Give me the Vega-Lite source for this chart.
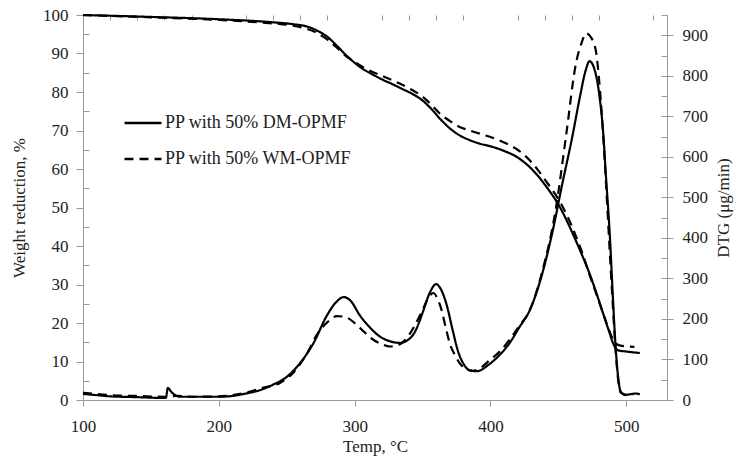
{
  "$schema": "https://vega.github.io/schema/vega-lite/v6.json",
  "width": 584,
  "height": 385,
  "autosize": {"type": "none"},
  "padding": {"left": 83, "top": 15, "right": 67, "bottom": 60},
  "background": "white",
  "config": {
    "view": {"stroke": null},
    "font": "Liberation Serif",
    "axis": {
      "grid": false,
      "domainColor": "#9a9a9a",
      "tickColor": "#9a9a9a",
      "labelColor": "#222222",
      "titleColor": "#222222",
      "labelFont": "Liberation Serif",
      "titleFont": "Liberation Serif",
      "labelFontSize": 17,
      "titleFontSize": 17,
      "titleFontWeight": "normal",
      "labelFlush": false
    },
    "legend": {
      "labelFont": "Liberation Serif",
      "labelFontSize": 18,
      "labelColor": "#222222",
      "labelLimit": 400
    }
  },
  "datasets": {
    "tga": [
      {"temp": 100, "weight": 100, "series": "PP with 50% DM-OPMF"},
      {"temp": 150, "weight": 99.5, "series": "PP with 50% DM-OPMF"},
      {"temp": 200, "weight": 98.9, "series": "PP with 50% DM-OPMF"},
      {"temp": 240, "weight": 98.1, "series": "PP with 50% DM-OPMF"},
      {"temp": 255, "weight": 97.6, "series": "PP with 50% DM-OPMF"},
      {"temp": 265, "weight": 97.0, "series": "PP with 50% DM-OPMF"},
      {"temp": 272, "weight": 96.0, "series": "PP with 50% DM-OPMF"},
      {"temp": 280, "weight": 94.3, "series": "PP with 50% DM-OPMF"},
      {"temp": 287, "weight": 92.0, "series": "PP with 50% DM-OPMF"},
      {"temp": 293, "weight": 89.8, "series": "PP with 50% DM-OPMF"},
      {"temp": 300, "weight": 87.6, "series": "PP with 50% DM-OPMF"},
      {"temp": 306, "weight": 86.0, "series": "PP with 50% DM-OPMF"},
      {"temp": 312, "weight": 84.8, "series": "PP with 50% DM-OPMF"},
      {"temp": 320, "weight": 83.3, "series": "PP with 50% DM-OPMF"},
      {"temp": 328, "weight": 82.0, "series": "PP with 50% DM-OPMF"},
      {"temp": 335, "weight": 80.8, "series": "PP with 50% DM-OPMF"},
      {"temp": 342, "weight": 79.6, "series": "PP with 50% DM-OPMF"},
      {"temp": 350, "weight": 77.8, "series": "PP with 50% DM-OPMF"},
      {"temp": 357, "weight": 75.4, "series": "PP with 50% DM-OPMF"},
      {"temp": 363, "weight": 73.0, "series": "PP with 50% DM-OPMF"},
      {"temp": 370, "weight": 70.6, "series": "PP with 50% DM-OPMF"},
      {"temp": 377, "weight": 68.8, "series": "PP with 50% DM-OPMF"},
      {"temp": 384, "weight": 67.6, "series": "PP with 50% DM-OPMF"},
      {"temp": 392, "weight": 66.6, "series": "PP with 50% DM-OPMF"},
      {"temp": 400, "weight": 65.9, "series": "PP with 50% DM-OPMF"},
      {"temp": 410, "weight": 64.7, "series": "PP with 50% DM-OPMF"},
      {"temp": 420, "weight": 63.0, "series": "PP with 50% DM-OPMF"},
      {"temp": 428, "weight": 60.8, "series": "PP with 50% DM-OPMF"},
      {"temp": 435, "weight": 58.2, "series": "PP with 50% DM-OPMF"},
      {"temp": 442, "weight": 55.0, "series": "PP with 50% DM-OPMF"},
      {"temp": 450, "weight": 50.8, "series": "PP with 50% DM-OPMF"},
      {"temp": 457, "weight": 46.0, "series": "PP with 50% DM-OPMF"},
      {"temp": 463, "weight": 41.3, "series": "PP with 50% DM-OPMF"},
      {"temp": 468, "weight": 37.2, "series": "PP with 50% DM-OPMF"},
      {"temp": 473, "weight": 32.8, "series": "PP with 50% DM-OPMF"},
      {"temp": 478, "weight": 27.8, "series": "PP with 50% DM-OPMF"},
      {"temp": 482, "weight": 23.5, "series": "PP with 50% DM-OPMF"},
      {"temp": 487, "weight": 18.2, "series": "PP with 50% DM-OPMF"},
      {"temp": 491, "weight": 14.2, "series": "PP with 50% DM-OPMF"},
      {"temp": 494, "weight": 12.9, "series": "PP with 50% DM-OPMF"},
      {"temp": 500, "weight": 12.6, "series": "PP with 50% DM-OPMF"},
      {"temp": 510, "weight": 12.2, "series": "PP with 50% DM-OPMF"},
      {"temp": 100, "weight": 100, "series": "PP with 50% WM-OPMF"},
      {"temp": 150, "weight": 99.4, "series": "PP with 50% WM-OPMF"},
      {"temp": 200, "weight": 98.7, "series": "PP with 50% WM-OPMF"},
      {"temp": 240, "weight": 97.8, "series": "PP with 50% WM-OPMF"},
      {"temp": 255, "weight": 97.2, "series": "PP with 50% WM-OPMF"},
      {"temp": 265, "weight": 96.4, "series": "PP with 50% WM-OPMF"},
      {"temp": 272, "weight": 95.4, "series": "PP with 50% WM-OPMF"},
      {"temp": 280, "weight": 93.6, "series": "PP with 50% WM-OPMF"},
      {"temp": 287, "weight": 91.5, "series": "PP with 50% WM-OPMF"},
      {"temp": 293, "weight": 89.5, "series": "PP with 50% WM-OPMF"},
      {"temp": 300, "weight": 87.8, "series": "PP with 50% WM-OPMF"},
      {"temp": 306, "weight": 86.5, "series": "PP with 50% WM-OPMF"},
      {"temp": 312, "weight": 85.4, "series": "PP with 50% WM-OPMF"},
      {"temp": 320, "weight": 84.2, "series": "PP with 50% WM-OPMF"},
      {"temp": 328, "weight": 83.0, "series": "PP with 50% WM-OPMF"},
      {"temp": 335, "weight": 81.9, "series": "PP with 50% WM-OPMF"},
      {"temp": 342, "weight": 80.6, "series": "PP with 50% WM-OPMF"},
      {"temp": 350, "weight": 78.8, "series": "PP with 50% WM-OPMF"},
      {"temp": 357, "weight": 76.5, "series": "PP with 50% WM-OPMF"},
      {"temp": 363, "weight": 74.3, "series": "PP with 50% WM-OPMF"},
      {"temp": 370, "weight": 72.5, "series": "PP with 50% WM-OPMF"},
      {"temp": 377, "weight": 71.0, "series": "PP with 50% WM-OPMF"},
      {"temp": 384, "weight": 70.1, "series": "PP with 50% WM-OPMF"},
      {"temp": 392, "weight": 69.2, "series": "PP with 50% WM-OPMF"},
      {"temp": 400, "weight": 68.3, "series": "PP with 50% WM-OPMF"},
      {"temp": 410, "weight": 66.9, "series": "PP with 50% WM-OPMF"},
      {"temp": 420, "weight": 65.0, "series": "PP with 50% WM-OPMF"},
      {"temp": 428, "weight": 62.6, "series": "PP with 50% WM-OPMF"},
      {"temp": 435, "weight": 59.7, "series": "PP with 50% WM-OPMF"},
      {"temp": 442, "weight": 56.3, "series": "PP with 50% WM-OPMF"},
      {"temp": 450, "weight": 52.2, "series": "PP with 50% WM-OPMF"},
      {"temp": 457, "weight": 47.5, "series": "PP with 50% WM-OPMF"},
      {"temp": 463, "weight": 42.5, "series": "PP with 50% WM-OPMF"},
      {"temp": 468, "weight": 37.8, "series": "PP with 50% WM-OPMF"},
      {"temp": 473, "weight": 32.5, "series": "PP with 50% WM-OPMF"},
      {"temp": 478, "weight": 27.5, "series": "PP with 50% WM-OPMF"},
      {"temp": 482, "weight": 23.5, "series": "PP with 50% WM-OPMF"},
      {"temp": 487, "weight": 18.5, "series": "PP with 50% WM-OPMF"},
      {"temp": 491, "weight": 15.2, "series": "PP with 50% WM-OPMF"},
      {"temp": 495, "weight": 14.2, "series": "PP with 50% WM-OPMF"},
      {"temp": 506, "weight": 13.8, "series": "PP with 50% WM-OPMF"}
    ],
    "dtg": [
      {"temp": 100, "dtg": 15, "series": "PP with 50% DM-OPMF"},
      {"temp": 110, "dtg": 12, "series": "PP with 50% DM-OPMF"},
      {"temp": 120, "dtg": 9, "series": "PP with 50% DM-OPMF"},
      {"temp": 140, "dtg": 7, "series": "PP with 50% DM-OPMF"},
      {"temp": 161, "dtg": 5, "series": "PP with 50% DM-OPMF"},
      {"temp": 162.5, "dtg": 30, "series": "PP with 50% DM-OPMF"},
      {"temp": 165, "dtg": 20, "series": "PP with 50% DM-OPMF"},
      {"temp": 168, "dtg": 12, "series": "PP with 50% DM-OPMF"},
      {"temp": 172, "dtg": 8, "series": "PP with 50% DM-OPMF"},
      {"temp": 190, "dtg": 8, "series": "PP with 50% DM-OPMF"},
      {"temp": 200, "dtg": 8, "series": "PP with 50% DM-OPMF"},
      {"temp": 210, "dtg": 10, "series": "PP with 50% DM-OPMF"},
      {"temp": 220, "dtg": 16, "series": "PP with 50% DM-OPMF"},
      {"temp": 230, "dtg": 24, "series": "PP with 50% DM-OPMF"},
      {"temp": 240, "dtg": 38, "series": "PP with 50% DM-OPMF"},
      {"temp": 250, "dtg": 57, "series": "PP with 50% DM-OPMF"},
      {"temp": 260, "dtg": 92, "series": "PP with 50% DM-OPMF"},
      {"temp": 270, "dtg": 142, "series": "PP with 50% DM-OPMF"},
      {"temp": 279, "dtg": 205, "series": "PP with 50% DM-OPMF"},
      {"temp": 286, "dtg": 240, "series": "PP with 50% DM-OPMF"},
      {"temp": 292, "dtg": 254, "series": "PP with 50% DM-OPMF"},
      {"temp": 297, "dtg": 245, "series": "PP with 50% DM-OPMF"},
      {"temp": 304, "dtg": 208, "series": "PP with 50% DM-OPMF"},
      {"temp": 311, "dtg": 180, "series": "PP with 50% DM-OPMF"},
      {"temp": 318, "dtg": 158, "series": "PP with 50% DM-OPMF"},
      {"temp": 325, "dtg": 146, "series": "PP with 50% DM-OPMF"},
      {"temp": 333, "dtg": 141, "series": "PP with 50% DM-OPMF"},
      {"temp": 340, "dtg": 150, "series": "PP with 50% DM-OPMF"},
      {"temp": 345, "dtg": 172, "series": "PP with 50% DM-OPMF"},
      {"temp": 350, "dtg": 215, "series": "PP with 50% DM-OPMF"},
      {"temp": 355, "dtg": 262, "series": "PP with 50% DM-OPMF"},
      {"temp": 360, "dtg": 286, "series": "PP with 50% DM-OPMF"},
      {"temp": 364, "dtg": 270, "series": "PP with 50% DM-OPMF"},
      {"temp": 368, "dtg": 232, "series": "PP with 50% DM-OPMF"},
      {"temp": 372, "dtg": 175, "series": "PP with 50% DM-OPMF"},
      {"temp": 376, "dtg": 122, "series": "PP with 50% DM-OPMF"},
      {"temp": 380, "dtg": 90, "series": "PP with 50% DM-OPMF"},
      {"temp": 385, "dtg": 73, "series": "PP with 50% DM-OPMF"},
      {"temp": 390, "dtg": 71, "series": "PP with 50% DM-OPMF"},
      {"temp": 399, "dtg": 88, "series": "PP with 50% DM-OPMF"},
      {"temp": 407, "dtg": 112, "series": "PP with 50% DM-OPMF"},
      {"temp": 414, "dtg": 140, "series": "PP with 50% DM-OPMF"},
      {"temp": 421, "dtg": 178, "series": "PP with 50% DM-OPMF"},
      {"temp": 429, "dtg": 222, "series": "PP with 50% DM-OPMF"},
      {"temp": 438, "dtg": 310, "series": "PP with 50% DM-OPMF"},
      {"temp": 446, "dtg": 420, "series": "PP with 50% DM-OPMF"},
      {"temp": 453, "dtg": 535, "series": "PP with 50% DM-OPMF"},
      {"temp": 460, "dtg": 645, "series": "PP with 50% DM-OPMF"},
      {"temp": 466, "dtg": 750, "series": "PP with 50% DM-OPMF"},
      {"temp": 470, "dtg": 812, "series": "PP with 50% DM-OPMF"},
      {"temp": 473, "dtg": 836, "series": "PP with 50% DM-OPMF"},
      {"temp": 476, "dtg": 822, "series": "PP with 50% DM-OPMF"},
      {"temp": 480, "dtg": 757, "series": "PP with 50% DM-OPMF"},
      {"temp": 483, "dtg": 660, "series": "PP with 50% DM-OPMF"},
      {"temp": 485, "dtg": 555, "series": "PP with 50% DM-OPMF"},
      {"temp": 488, "dtg": 400, "series": "PP with 50% DM-OPMF"},
      {"temp": 490, "dtg": 264, "series": "PP with 50% DM-OPMF"},
      {"temp": 492, "dtg": 140, "series": "PP with 50% DM-OPMF"},
      {"temp": 494, "dtg": 57, "series": "PP with 50% DM-OPMF"},
      {"temp": 496, "dtg": 20, "series": "PP with 50% DM-OPMF"},
      {"temp": 500, "dtg": 13, "series": "PP with 50% DM-OPMF"},
      {"temp": 507, "dtg": 16, "series": "PP with 50% DM-OPMF"},
      {"temp": 510, "dtg": 14, "series": "PP with 50% DM-OPMF"},
      {"temp": 100, "dtg": 18, "series": "PP with 50% WM-OPMF"},
      {"temp": 120, "dtg": 12, "series": "PP with 50% WM-OPMF"},
      {"temp": 140, "dtg": 10, "series": "PP with 50% WM-OPMF"},
      {"temp": 160, "dtg": 8, "series": "PP with 50% WM-OPMF"},
      {"temp": 170, "dtg": 10, "series": "PP with 50% WM-OPMF"},
      {"temp": 180, "dtg": 8, "series": "PP with 50% WM-OPMF"},
      {"temp": 200, "dtg": 9, "series": "PP with 50% WM-OPMF"},
      {"temp": 220, "dtg": 18, "series": "PP with 50% WM-OPMF"},
      {"temp": 232, "dtg": 30, "series": "PP with 50% WM-OPMF"},
      {"temp": 245, "dtg": 42, "series": "PP with 50% WM-OPMF"},
      {"temp": 255, "dtg": 68, "series": "PP with 50% WM-OPMF"},
      {"temp": 265, "dtg": 115, "series": "PP with 50% WM-OPMF"},
      {"temp": 272, "dtg": 160, "series": "PP with 50% WM-OPMF"},
      {"temp": 280, "dtg": 192, "series": "PP with 50% WM-OPMF"},
      {"temp": 287, "dtg": 207, "series": "PP with 50% WM-OPMF"},
      {"temp": 293, "dtg": 205, "series": "PP with 50% WM-OPMF"},
      {"temp": 300, "dtg": 190, "series": "PP with 50% WM-OPMF"},
      {"temp": 307, "dtg": 168, "series": "PP with 50% WM-OPMF"},
      {"temp": 314, "dtg": 148, "series": "PP with 50% WM-OPMF"},
      {"temp": 320, "dtg": 138, "series": "PP with 50% WM-OPMF"},
      {"temp": 326, "dtg": 132, "series": "PP with 50% WM-OPMF"},
      {"temp": 333, "dtg": 137, "series": "PP with 50% WM-OPMF"},
      {"temp": 340, "dtg": 160, "series": "PP with 50% WM-OPMF"},
      {"temp": 346, "dtg": 195, "series": "PP with 50% WM-OPMF"},
      {"temp": 350, "dtg": 222, "series": "PP with 50% WM-OPMF"},
      {"temp": 355, "dtg": 256, "series": "PP with 50% WM-OPMF"},
      {"temp": 358, "dtg": 264, "series": "PP with 50% WM-OPMF"},
      {"temp": 361, "dtg": 250, "series": "PP with 50% WM-OPMF"},
      {"temp": 364, "dtg": 222, "series": "PP with 50% WM-OPMF"},
      {"temp": 367, "dtg": 180, "series": "PP with 50% WM-OPMF"},
      {"temp": 370, "dtg": 140, "series": "PP with 50% WM-OPMF"},
      {"temp": 374, "dtg": 110, "series": "PP with 50% WM-OPMF"},
      {"temp": 378, "dtg": 88, "series": "PP with 50% WM-OPMF"},
      {"temp": 383, "dtg": 75, "series": "PP with 50% WM-OPMF"},
      {"temp": 387, "dtg": 72, "series": "PP with 50% WM-OPMF"},
      {"temp": 393, "dtg": 80, "series": "PP with 50% WM-OPMF"},
      {"temp": 399, "dtg": 97, "series": "PP with 50% WM-OPMF"},
      {"temp": 407, "dtg": 120, "series": "PP with 50% WM-OPMF"},
      {"temp": 414, "dtg": 148, "series": "PP with 50% WM-OPMF"},
      {"temp": 421, "dtg": 182, "series": "PP with 50% WM-OPMF"},
      {"temp": 429, "dtg": 222, "series": "PP with 50% WM-OPMF"},
      {"temp": 438, "dtg": 315, "series": "PP with 50% WM-OPMF"},
      {"temp": 448, "dtg": 469, "series": "PP with 50% WM-OPMF"},
      {"temp": 455.6, "dtg": 650, "series": "PP with 50% WM-OPMF"},
      {"temp": 463, "dtg": 831, "series": "PP with 50% WM-OPMF"},
      {"temp": 467, "dtg": 880, "series": "PP with 50% WM-OPMF"},
      {"temp": 470.4, "dtg": 905, "series": "PP with 50% WM-OPMF"},
      {"temp": 474, "dtg": 895, "series": "PP with 50% WM-OPMF"},
      {"temp": 477.7, "dtg": 860, "series": "PP with 50% WM-OPMF"},
      {"temp": 480, "dtg": 790, "series": "PP with 50% WM-OPMF"},
      {"temp": 482.6, "dtg": 674, "series": "PP with 50% WM-OPMF"},
      {"temp": 485, "dtg": 540, "series": "PP with 50% WM-OPMF"},
      {"temp": 487.5, "dtg": 387, "series": "PP with 50% WM-OPMF"},
      {"temp": 490, "dtg": 240, "series": "PP with 50% WM-OPMF"},
      {"temp": 492, "dtg": 130, "series": "PP with 50% WM-OPMF"},
      {"temp": 494, "dtg": 50, "series": "PP with 50% WM-OPMF"},
      {"temp": 496, "dtg": 18, "series": "PP with 50% WM-OPMF"},
      {"temp": 500, "dtg": 12, "series": "PP with 50% WM-OPMF"},
      {"temp": 505, "dtg": 14, "series": "PP with 50% WM-OPMF"}
    ]
  },
  "layer": [
    {
      "data": {"name": "tga"},
      "mark": {"type": "line", "color": "black", "strokeWidth": 2.2, "interpolate": "monotone"},
      "encoding": {
        "x": {
          "field": "temp", "type": "quantitative",
          "scale": {"domain": [100, 530], "nice": false, "zero": false},
          "axis": {"title": "Temp, °C", "values": [100, 200, 300, 400, 500], "tickSize": 6, "labelPadding": 12, "titlePadding": 4, "format": "d"}
        },
        "y": {
          "field": "weight", "type": "quantitative",
          "scale": {"domain": [0, 100], "nice": false},
          "axis": {"title": "Weight reduction, %", "orient": "left", "values": [0, 10, 20, 30, 40, 50, 60, 70, 80, 90, 100], "tickSize": 7, "labelPadding": 8, "titlePadding": 14}
        },
        "strokeDash": {
          "field": "series", "type": "nominal",
          "scale": {"domain": ["PP with 50% DM-OPMF", "PP with 50% WM-OPMF"], "range": [[1, 0], [9, 6]]},
          "legend": {"title": null, "orient": "none", "legendX": 40, "legendY": 88, "symbolType": "stroke", "symbolSize": 1369, "symbolStrokeWidth": 2.5, "symbolStrokeColor": "black", "rowPadding": 7, "labelOffset": 2, "labelLimit": 400}
        }
      }
    },
    {
      "data": {"name": "dtg"},
      "mark": {"type": "line", "color": "black", "strokeWidth": 2.2, "interpolate": "monotone"},
      "encoding": {
        "x": {
          "field": "temp", "type": "quantitative",
          "scale": {"domain": [100, 530], "nice": false, "zero": false},
          "axis": {"title": null, "labels": false, "domain": false, "values": [120, 140, 160, 180, 220, 240, 260, 280, 320, 340, 360, 380, 420, 440, 460, 480, 520], "tickSize": -5}
        },
        "y": {
          "field": "dtg", "type": "quantitative",
          "scale": {"domain": [0, 950], "nice": false},
          "axis": {"title": "DTG (μg/min)", "orient": "right", "values": [0, 100, 200, 300, 400, 500, 600, 700, 800, 900], "tickSize": 6, "labelPadding": 9, "titlePadding": 8, "titleAngle": 270, "titleBaseline": "top"}
        },
        "strokeDash": {"field": "series", "type": "nominal"}
      }
    },
    {
      "data": {"name": "tga"},
      "mark": {"type": "line", "strokeOpacity": 0},
      "encoding": {
        "x": {"field": "temp", "type": "quantitative", "scale": {"domain": [100, 530], "nice": false, "zero": false}, "axis": null},
        "y": {
          "field": "weight", "type": "quantitative",
          "scale": {"domain": [0, 100], "nice": false},
          "axis": {"title": null, "orient": "left", "labels": false, "domain": false, "values": [5, 15, 25, 35, 45, 55, 65, 75, 85, 95], "tickSize": -6}
        },
        "detail": {"field": "series"}
      }
    },
    {
      "data": {"name": "dtg"},
      "mark": {"type": "line", "strokeOpacity": 0},
      "encoding": {
        "x": {"field": "temp", "type": "quantitative", "scale": {"domain": [100, 530], "nice": false, "zero": false}, "axis": null},
        "y": {
          "field": "dtg", "type": "quantitative",
          "scale": {"domain": [0, 950], "nice": false},
          "axis": {"title": null, "orient": "right", "labels": false, "domain": false, "values": [0, 50, 100, 150, 200, 250, 300, 350, 400, 450, 500, 550, 600, 650, 700, 750, 800, 850, 900, 950], "tickSize": -6}
        },
        "detail": {"field": "series"}
      }
    }
  ],
  "resolve": {"scale": {"y": "independent"}, "axis": {"x": "independent", "y": "independent"}}
}
